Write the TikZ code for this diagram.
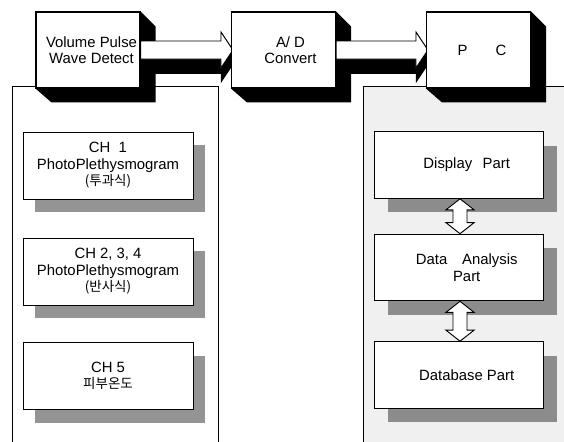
\documentclass[tikz,border=0pt]{standalone}
\usepackage{fontspec}
\setmainfont{Liberation Sans}
\newfontfamily\krfont{Noto Sans CJK KR}
\usetikzlibrary{calc,shadows}
\pgfdeclarelayer{panel}
\pgfdeclarelayer{depth}
\pgfsetlayers{panel,depth,main}
\tikzset{top box/.style={draw,fill=white,line width=0.9pt,minimum width=3.12cm,
minimum height=2.28cm,inner sep=0pt,align=center}}
\tikzset{plain box/.style={draw,fill=white,line width=0.8pt,inner sep=0pt,align=center}}
\tikzset{ch box/.style={plain box,minimum width=5.1cm,minimum height=2.01cm,
drop shadow={shadow xshift=0.36cm,shadow yshift=-0.4cm,fill=black!42,opacity=1}}}
\tikzset{part box/.style={plain box,minimum width=5.07cm,minimum height=2cm,
drop shadow={shadow xshift=0.42cm,shadow yshift=-0.42cm,fill=black!45,opacity=1}}}
\tikzset{panel line/.style={line width=0.6pt}}
\newcommand{\kr}[1]{{\krfont\fontsize{11.5}{14}\selectfont #1}}

\begin{document}
\begin{tikzpicture}[x=0.03cm,y=-0.03cm,font=\fontsize{12.7}{14}\selectfont]
\useasboundingbox (0,0) rectangle (564,441);

% top row
\node[top box] (vp) at (88,50) {\hspace*{6pt}Volume Pulse\\\hspace*{6pt}Wave Detect};
\node[top box] (ad) at (283.5,50) {\hspace*{12pt}A/ D\\\hspace*{12pt}Convert};
\node[top box] (pc) at (478.5,50) {\hspace*{6pt}P\hspace{1.9em}C};

% channels
\node[ch box] (ch1) at (108,165.5) {CH\ \ 1\\PhotoPlethysmogram\\\kr{(투과식)}};
\node[ch box] (ch2) at (108,271.5) {CH 2, 3, 4\\PhotoPlethysmogram\\\kr{(반사식)}};
\node[ch box] (ch5) at (108,376) {CH 5\\\kr{피부온도}};

% pc parts
\node[part box] (disp) at (458.5,165) {\hspace*{14pt}Display\hspace{0.7em}Part};
\node[part box] (ana) at (458.5,267.5) {\hspace*{14pt}Data\hspace{1em}Analysis\\\hspace*{14pt}Part};
\node[part box] (dbase) at (458.5,375) {\hspace*{14pt}Database Part};

\foreach \a/\b in {disp/ana,ana/dbase}{
    \draw[plain box] ($(\a.south)+(1.5,0)$) -- ++(14,11) -- ++(-7,0)
      -- ($(\b.north)+(8.5,-11)$) -- ++(7,0) -- ($(\b.north)+(1.5,0)$)
      -- ++(-14,-11) -- ++(7,0) -- ($(\a.south)+(-5.5,11)$) -- ++(-7,0) -- cycle;
}

% panels
\begin{pgfonlayer}{panel}
\fill[black!6] (363,86) rectangle (570,445);
\draw[panel line] (363,445) -- (363,86) -- (570,86);
\draw[panel line] (12,445) -- (12,86) -- (218,86) -- (218,445);
\end{pgfonlayer}

% 3d sides and block arrows
\begin{pgfonlayer}{depth}
\foreach \n in {vp,ad,pc}{
    \fill (\n.north east) -- ++(15,15) -- ++(0,76) -- ++(-104,0) -- (\n.south west) -- cycle;
}
\foreach \a/\b in {vp/ad,ad/pc}{
    \fill ($(\a.east)+(0,-9)$) rectangle ($(\b.west)+(-10,24)$);
    \fill ($(\b.west)+(-10,-18)$) -- ($(\b.west)+(2,0)$) -- ($(\b.west)+(2,15)$)
      -- ($(\b.west)+(-10,33)$) -- cycle;
    \draw[plain box] ($(\a.east)+(0,-9)$) -- ($(\b.west)+(-10,-9)$) -- ++(0,-9)
      -- ($(\b.west)+(2,0)$) -- ($(\b.west)+(-10,18)$) -- ++(0,-9)
      -- ($(\a.east)+(0,9)$) -- cycle;
}
\end{pgfonlayer}
\end{tikzpicture}
\end{document}
